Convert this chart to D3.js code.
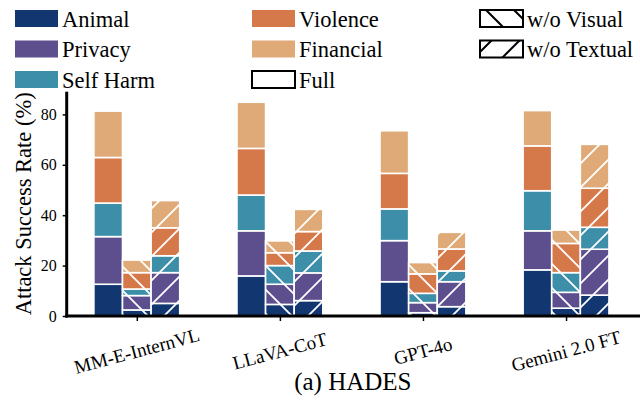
<!DOCTYPE html>
<html>
<head>
<meta charset="utf-8">
<script src="https://cdn.jsdelivr.net/npm/d3@7"></script>
<style>
  html, body { margin: 0; padding: 0; background: #fff; }
  svg { display: block; }
  text { font-family: "Liberation Serif", "Times New Roman", serif; fill: #000; }
</style>
</head>
<body>
<svg id="chart" width="640" height="403"></svg>
<script>
// ---- data ----
const models = ["MM-E-InternVL", "LLaVA-CoT", "GPT-4o", "Gemini 2.0 FT"];
const categories = ["Animal", "Privacy", "Self Harm", "Violence", "Financial"];
const categoryColors = ["#12366f", "#5d4f8d", "#3d8ea9", "#d5794a", "#dfaa78"];
const settings = ["Full", "w/o Visual", "w/o Textual"];
const yTicks = [0, 20, 40, 60, 80];
// per model: [Animal, Privacy, Self Harm, Violence, Financial]
const fullASR = [
  [12.6, 18.9, 13.3, 18.1, 18.4],
  [15.9, 17.9, 14.2, 18.5, 18.3],
  [13.6, 16.3, 12.6, 14.1, 16.9],
  [18.3, 15.5, 15.9, 17.8, 14.0]
];
const noVisualASR = [
  [2.4, 5.7, 2.6, 6.5, 5.0],
  [4.6, 8.0, 7.4, 5.1, 4.7],
  [1.3, 4.0, 3.7, 7.7, 4.5],
  [3.1, 6.3, 7.8, 11.6, 5.3]
];
const noTextualASR = [
  [5.0, 12.2, 6.7, 11.1, 10.8],
  [6.1, 11.0, 8.7, 7.7, 8.8],
  [3.7, 9.9, 4.3, 8.7, 6.6],
  [8.3, 18.2, 8.7, 15.5, 17.4]
];
const caption = "(a) HADES";
const yTitle = "Attack Success Rate (%)";

// ---- layout ----
const FONT = '"Liberation Serif", "Times New Roman", serif';
const svg = d3.select("#chart");
const pLeft = 66.7, pRight = 639, pTop = 91.7, pBottom = 316;
const x = d3.scaleLinear().domain([-0.49, 3.51]).range([pLeft, pRight]);
const y = d3.scaleLinear().domain([0, 89]).range([pBottom, pTop]);
const barW = 0.2;
const offsets = [-0.2, 0, 0.2];
const hatchKinds = [null, "back", "fwd"];
const seriesBySetting = [fullASR, noVisualASR, noTextualASR];

// ---- hatch patterns ----
const defs = svg.append("defs");
function makePattern(id, kind, color, P, sw) {
  const p = defs.append("pattern").attr("id", id)
    .attr("patternUnits", "userSpaceOnUse").attr("width", P).attr("height", P);
  const d = kind === "fwd"
    ? `M0,${P} L${P},0 M${-P/4},${P/4} L${P/4},${-P/4} M${3*P/4},${5*P/4} L${5*P/4},${3*P/4}`
    : `M0,0 L${P},${P} M${-P/4},${3*P/4} L${P/4},${5*P/4} M${3*P/4},${-P/4} L${5*P/4},${P/4}`;
  p.append("path").attr("d", d).attr("stroke", color).attr("stroke-width", sw).attr("fill", "none");
}
makePattern("hatch-back-w", "back", "#fff", 24, 1.8);
makePattern("hatch-fwd-w", "fwd", "#fff", 24, 1.8);
makePattern("hatch-back-k", "back", "#000", 28, 2);
makePattern("hatch-fwd-k", "fwd", "#000", 28, 2);

// ---- bars ----
const gBars = svg.append("g");
seriesBySetting.forEach((data, si) => {
  models.forEach((m, mi) => {
    const stack = d3.stack().keys(d3.range(categories.length))([data[mi]]);
    stack.forEach((layer, ci) => {
      const y0 = layer[0][0], y1 = layer[0][1];
      const bx = x(mi + offsets[si] - barW / 2);
      const bw = x(mi + offsets[si] + barW / 2) - bx;
      const by = y(y1), bh = y(y0) - y(y1);
      gBars.append("rect").attr("x", bx).attr("y", by).attr("width", bw).attr("height", bh)
        .attr("fill", categoryColors[ci]);
      if (hatchKinds[si]) {
        gBars.append("rect").attr("x", bx).attr("y", by).attr("width", bw).attr("height", bh)
          .attr("fill", `url(#hatch-${hatchKinds[si]}-w)`);
      }
      gBars.append("rect").attr("x", bx).attr("y", by).attr("width", bw).attr("height", bh)
        .attr("fill", "none").attr("stroke", "#fff").attr("stroke-width", 1.6);
    });
  });
});

// ---- axes ----
const yAxis = d3.axisLeft(y).tickValues(yTicks).tickSize(4).tickPadding(6).tickFormat(d3.format("d"));
const gy = svg.append("g").attr("transform", `translate(${pLeft},0)`).call(yAxis);
gy.attr("font-family", null);
gy.select(".domain").remove();
gy.selectAll(".tick line").attr("stroke", "#000").attr("stroke-width", 1.5);
gy.selectAll(".tick text").attr("font-size", 16).style("font-family", FONT).attr("fill", "#000");

const xAxis = d3.axisBottom(x).tickValues(d3.range(models.length)).tickSize(5).tickFormat(() => "");
const gx = svg.append("g").attr("transform", `translate(0,${pBottom})`).call(xAxis);
gx.select(".domain").remove();
gx.selectAll(".tick line").attr("stroke", "#000").attr("stroke-width", 1.5);

// spines
svg.append("line").attr("x1", pLeft).attr("x2", pLeft).attr("y1", pTop).attr("y2", pBottom + 1.5)
  .attr("stroke", "#000").attr("stroke-width", 3);
svg.append("line").attr("x1", pLeft - 1.5).attr("x2", 640).attr("y1", pBottom).attr("y2", pBottom)
  .attr("stroke", "#000").attr("stroke-width", 3);

// rotated x labels
svg.append("g").selectAll("text").data(models).join("text")
  .attr("transform", (d, i) => `translate(${x(i)},351) rotate(-15)`)
  .attr("text-anchor", "middle").attr("dominant-baseline", "central")
  .style("font-family", FONT).attr("font-size", 19).text(d => d);

// y title
svg.append("text").attr("transform", `translate(23,${(pTop + pBottom) / 2}) rotate(-90)`)
  .attr("text-anchor", "middle").attr("dominant-baseline", "central")
  .style("font-family", FONT).attr("font-size", 22.5).text(yTitle);

// caption
svg.append("text").attr("x", (pLeft + pRight) / 2).attr("y", 390)
  .attr("text-anchor", "middle").style("font-family", FONT).attr("font-size", 25).text(caption);

// ---- legend ----
const legendItems = [
  { label: "Animal", col: 0, row: 0, fill: categoryColors[0] },
  { label: "Privacy", col: 0, row: 1, fill: categoryColors[1] },
  { label: "Self Harm", col: 0, row: 2, fill: categoryColors[2] },
  { label: "Violence", col: 1, row: 0, fill: categoryColors[3] },
  { label: "Financial", col: 1, row: 1, fill: categoryColors[4] },
  { label: "Full", col: 1, row: 2, fill: "#fff", border: true },
  { label: "w/o Visual", col: 2, row: 0, fill: "url(#hatch-back-k)", border: true },
  { label: "w/o Textual", col: 2, row: 1, fill: "url(#hatch-fwd-k)", border: true }
];
const colX = [15, 252, 480];
const rowY = [10, 40.5, 71];
const lg = svg.append("g");
legendItems.forEach(it => {
  const px = colX[it.col], py = rowY[it.row];
  if (it.border) {
    lg.append("rect").attr("x", px).attr("y", py).attr("width", 43).attr("height", 17).attr("fill", "#fff");
    lg.append("rect").attr("x", px).attr("y", py).attr("width", 43).attr("height", 17)
      .attr("fill", it.fill).attr("stroke", "#000").attr("stroke-width", 2);
  } else {
    lg.append("rect").attr("x", px).attr("y", py).attr("width", 43).attr("height", 17).attr("fill", it.fill);
  }
  lg.append("text").attr("x", px + 47).attr("y", py + 16.5)
    .style("font-family", FONT).attr("font-size", 22.5).text(it.label);
});
</script>
</body>
</html>
